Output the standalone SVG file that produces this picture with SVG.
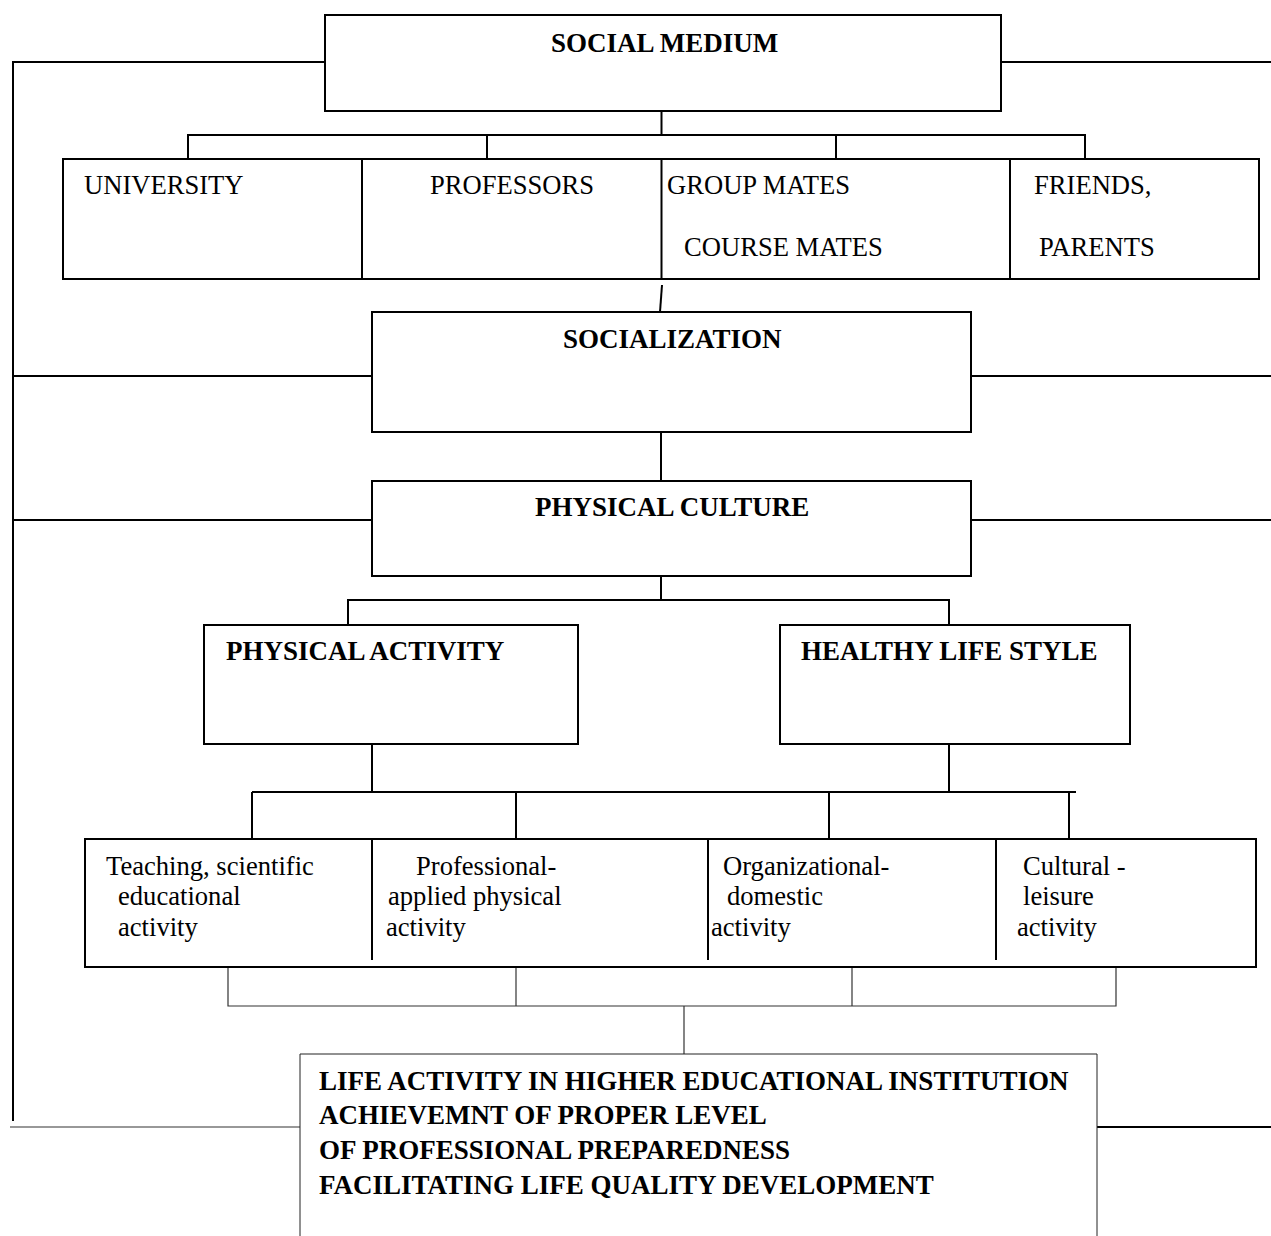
<svg xmlns="http://www.w3.org/2000/svg" width="1271" height="1236" viewBox="0 0 1271 1236">
<style>
.box{fill:#fff;stroke:#000;stroke-width:2}
.thin{fill:#fff;stroke:#222;stroke-width:1}
.ln{fill:none;stroke:#000;stroke-width:2}
.lt{fill:none;stroke:#333;stroke-width:1.2}
text{font-family:"Liberation Serif","Times New Roman",serif;font-size:26.6px;fill:#000}
.b{font-weight:bold;font-size:27px}
</style>
<rect width="1271" height="1236" fill="#fff"/>
<g id="connectors">
<polyline class="ln" points="325,62 13,62 13,1121"/>
<line class="ln" x1="995" y1="62" x2="1271" y2="62"/>
<line class="ln" x1="13" y1="376" x2="372" y2="376"/>
<line class="ln" x1="971" y1="376" x2="1271" y2="376"/>
<line class="ln" x1="13" y1="520" x2="372" y2="520"/>
<line class="ln" x1="971" y1="520" x2="1271" y2="520"/>
<line class="lt" x1="10" y1="1127" x2="300" y2="1127"/>
<line class="ln" x1="1091" y1="1127" x2="1271" y2="1127"/>
<line class="ln" x1="661.5" y1="111" x2="661.5" y2="135"/>
<polyline class="ln" points="188,159 188,135 1085,135 1085,159"/>
<line class="ln" x1="487" y1="135" x2="487" y2="159"/>
<line class="ln" x1="836" y1="135" x2="836" y2="159"/>
<line class="ln" x1="662" y1="285" x2="660" y2="312"/>
<line class="ln" x1="661" y1="432" x2="661" y2="481"/>
<line class="ln" x1="661" y1="576" x2="661" y2="600"/>
<polyline class="ln" points="348,625 348,600 949,600 949,625"/>
<line class="ln" x1="372" y1="744" x2="372" y2="792"/>
<line class="ln" x1="949" y1="744" x2="949" y2="792"/>
<line class="ln" x1="252" y1="792" x2="1076" y2="792"/>
<line class="ln" x1="252" y1="792" x2="252" y2="839"/>
<line class="ln" x1="516" y1="792" x2="516" y2="839"/>
<line class="ln" x1="829" y1="792" x2="829" y2="839"/>
<line class="ln" x1="1069" y1="792" x2="1069" y2="839"/>
<polyline class="lt" points="228,967 228,1006 1116,1006 1116,967"/>
<line class="lt" x1="516" y1="967" x2="516" y2="1006"/>
<line class="lt" x1="852" y1="967" x2="852" y2="1006"/>
<line class="lt" x1="684" y1="1006" x2="684" y2="1054"/>
</g>
<g id="social-medium">
<rect class="box" x="325" y="15" width="676" height="96"/>
<text class="b" x="551" y="52">SOCIAL MEDIUM</text>
</g>
<g id="row-medium">
<rect class="box" x="63" y="159" width="1196" height="120"/>
<line class="ln" x1="362" y1="159" x2="362" y2="279"/>
<line class="ln" x1="661.5" y1="159" x2="661.5" y2="279"/>
<line class="ln" x1="1010" y1="159" x2="1010" y2="279"/>
</g>
<g id="university"><text x="84" y="194">UNIVERSITY</text></g>
<g id="professors"><text x="430" y="194">PROFESSORS</text></g>
<g id="group-mates"><text x="667" y="194">GROUP MATES</text><text x="684" y="256">COURSE MATES</text></g>
<g id="friends"><text x="1034" y="194">FRIENDS,</text><text x="1039" y="256">PARENTS</text></g>
<g id="socialization">
<rect class="box" x="372" y="312" width="599" height="120"/>
<text class="b" x="563" y="348">SOCIALIZATION</text>
</g>
<g id="physical-culture">
<rect class="box" x="372" y="481" width="599" height="95"/>
<text class="b" x="535" y="516">PHYSICAL CULTURE</text>
</g>
<g id="physical-activity">
<rect class="box" x="204" y="625" width="374" height="119"/>
<text class="b" x="226" y="660">PHYSICAL ACTIVITY</text>
</g>
<g id="healthy-life-style">
<rect class="box" x="780" y="625" width="350" height="119"/>
<text class="b" x="801" y="660">HEALTHY LIFE STYLE</text>
</g>
<g id="activities">
<rect class="box" x="85" y="839" width="1171" height="128"/>
<line class="ln" x1="372" y1="839" x2="372" y2="960"/>
<line class="ln" x1="708" y1="839" x2="708" y2="960"/>
<line class="ln" x1="996" y1="839" x2="996" y2="960"/>
</g>
<g id="teaching"><text x="106" y="875">Teaching, scientific</text><text x="118" y="905">educational</text><text x="118" y="936">activity</text></g>
<g id="professional"><text x="416" y="875">Professional-</text><text x="388" y="905">applied physical</text><text x="386" y="936">activity</text></g>
<g id="organizational"><text x="723" y="875">Organizational-</text><text x="727" y="905">domestic</text><text x="711" y="936">activity</text></g>
<g id="cultural"><text x="1023" y="875">Cultural -</text><text x="1023" y="905">leisure</text><text x="1017" y="936">activity</text></g>
<g id="life-activity">
<polyline class="thin" points="300,1240 300,1054 1097,1054 1097,1240"/>
<text class="b" x="319" y="1090">LIFE ACTIVITY IN HIGHER EDUCATIONAL INSTITUTION</text>
<text class="b" x="319" y="1124">ACHIEVEMNT OF PROPER LEVEL</text>
<text class="b" x="319" y="1159">OF PROFESSIONAL PREPAREDNESS</text>
<text class="b" x="319" y="1194">FACILITATING LIFE QUALITY DEVELOPMENT</text>
</g>
</svg>
